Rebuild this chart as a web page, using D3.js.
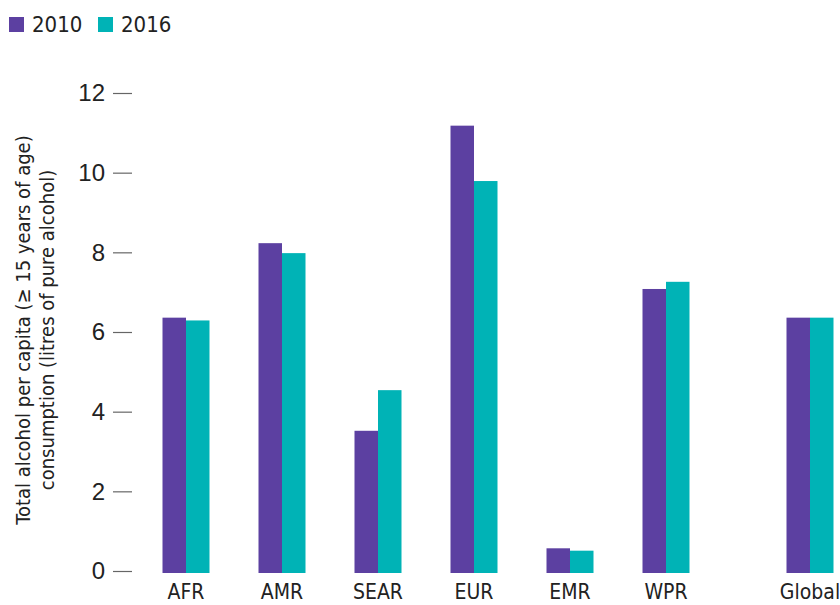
<!DOCTYPE html>
<html>
<head>
<meta charset="utf-8">
<script src="https://cdn.jsdelivr.net/npm/d3@7"></script>
<style>
  body { margin: 0; background: #fff; }
  svg { display: block; font-family: "Liberation Sans Narrow", "Arial Narrow", "DejaVu Sans Condensed", sans-serif; }
</style>
</head>
<body>
<svg id="chart" width="840" height="605"></svg>
<script>
// data
var regions = ["AFR", "AMR", "SEAR", "EUR", "EMR", "WPR", "Global"];
var years = ["2010", "2016"];
var values2010 = [6.36, 8.23, 3.52, 11.18, 0.57, 7.08, 6.36];
var values2016 = [6.29, 7.98, 4.54, 9.79, 0.51, 7.26, 6.36];
var yTicks = [0, 2, 4, 6, 8, 10, 12];
var colors = ["#5c40a1", "#00b3b6"];

var svg = d3.select("#chart");
var textColor = "#222";

var y = d3.scaleLinear().domain([0, 12]).range([571, 93]);
// Global sits a half step further out than the regions
function slot(i) { return regions[i] === "Global" ? i + 0.5 : i; }
var x = d3.scaleLinear().domain([0, 6.5]).range([186, 810]);
var inner = d3.scaleBand().domain(years).range([-23.5, 23.5]);
var color = d3.scaleOrdinal().domain(years).range(colors);

// y axis
var yAxis = d3.axisLeft(y).tickValues(yTicks).tickSize(19).tickPadding(8);
var yg = svg.append("g")
    .attr("transform", "translate(132,0)")
    .call(yAxis);
yg.select(".domain").remove();
yg.selectAll(".tick line").attr("stroke", "#666").attr("stroke-width", 1.2);
yg.selectAll(".tick text")
    .attr("fill", textColor)
    .style("font-size", "24px")
    .style("font-family", "inherit");

// y label
var ylab = svg.append("text")
    .attr("transform", "translate(30,330) rotate(-90)")
    .attr("text-anchor", "middle")
    .attr("fill", textColor)
    .style("font-size", "20px");
ylab.append("tspan").attr("x", 0).attr("y", 0).text("Total alcohol per capita (\u2265 15 years of age)");
ylab.append("tspan").attr("x", 0).attr("y", 24).text("consumption (litres of pure alcohol)");

// bars
var rows = regions.map(function(r, i) {
  return { region: r, pos: slot(i), vals: [values2010[i], values2016[i]] };
});

var groups = svg.append("g").selectAll("g")
    .data(rows)
    .join("g")
    .attr("transform", function(d) { return "translate(" + x(d.pos) + ",0)"; });

groups.selectAll("rect")
    .data(function(d) { return years.map(function(yr, k) { return { year: yr, v: d.vals[k] }; }); })
    .join("rect")
    .attr("x", function(d) { return inner(d.year); })
    .attr("width", inner.bandwidth())
    .attr("y", function(d) { return y(d.v); })
    .attr("height", function(d) { return y(0) - y(d.v) + 2; })
    .attr("fill", function(d) { return color(d.year); });

groups.append("text")
    .attr("y", 599)
    .attr("text-anchor", "middle")
    .attr("fill", textColor)
    .style("font-size", "21px")
    .text(function(d) { return d.region; });

// legend
var legend = svg.append("g").selectAll("g")
    .data(years)
    .join("g")
    .attr("transform", function(d, i) { return "translate(" + (9 + i * 89) + ",0)"; });
legend.append("rect")
    .attr("y", 17)
    .attr("width", 15)
    .attr("height", 15)
    .attr("fill", function(d) { return color(d); });
legend.append("text")
    .attr("x", 23)
    .attr("y", 32)
    .attr("fill", textColor)
    .style("font-size", "22px")
    .text(function(d) { return d; });
</script>
</body>
</html>
